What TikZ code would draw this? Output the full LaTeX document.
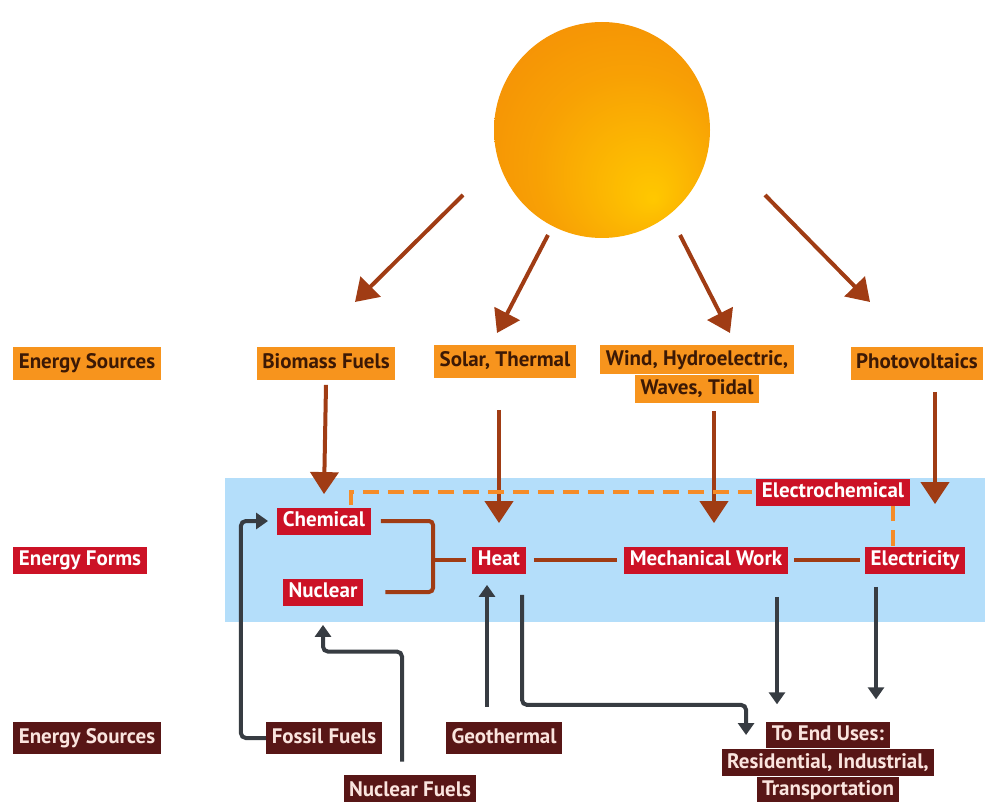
\documentclass[tikz,border=0pt]{standalone}
\usepackage{fontspec}
\setmainfont{PT Sans}
\usepackage{tikz}
\usetikzlibrary{arrows.meta, calc, positioning}

\definecolor{srcorange}{RGB}{247,148,29}
\definecolor{srctext}{RGB}{60,25,5}
\definecolor{formred}{RGB}{204,18,38}
\definecolor{basebrown}{RGB}{88,22,22}
\definecolor{basetext}{RGB}{250,228,222}
\definecolor{bandblue}{RGB}{180,222,250}
\definecolor{raybrown}{RGB}{160,60,20}
\definecolor{dashorange}{RGB}{245,140,40}
\definecolor{feedgray}{RGB}{55,60,66}
\definecolor{sunyellow}{RGB}{255,200,0}
\definecolor{sunorange}{RGB}{242,128,8}

\pgfdeclareradialshading{sunglow}{\pgfpoint{12bp}{-16bp}}{color(0bp)=(sunyellow); color(22bp)=(sunyellow!45!sunorange); color(50bp)=(sunorange)}

\begin{document}
\begin{tikzpicture}[x=0.5pt,y=-0.5pt,
	lbl/.style={inner xsep=2.75pt, text height=8pt, text depth=2.2pt, font=\fontsize{10.5}{12.5}\selectfont\bfseries},
	src/.style={lbl, fill=srcorange, text=srctext, inner ysep=3.15pt},
	form/.style={lbl, fill=formred, text=white, inner ysep=1.65pt},
	base/.style={lbl, fill=basebrown, text=basetext, inner ysep=2.9pt},
	ray/.style={draw=raybrown, line width=2pt, -{Triangle[width=14pt,length=11pt]}},
	link/.style={draw=raybrown, line width=2pt, rounded corners=2pt},
	store/.style={draw=dashorange, line width=2pt, dash pattern=on 8pt off 4.5pt},
	feed/.style={draw=feedgray, line width=2pt, rounded corners=2.5pt, -{Triangle[width=8pt,length=6pt]}}]

							\useasboundingbox (0,0) rectangle (985,802);
							\fill[bandblue] (225,478) rectangle (985,622);

							\node[circle, minimum size=108pt, shading=sunglow] (sun) at (602,130) {};

							\node[src] (srcL) at (87,363) {Energy Sources};
							\node[src] (bio) at (326,363) {Biomass Fuels};
							\node[src] (solar) at (505,361) {Solar, Thermal};
							\node[src, inner ysep=2pt] (wind1) at (697,359.5) {Wind, Hydroelectric,};
							\node[src, inner ysep=2pt, below=0pt of wind1] (wind2) {Waves, Tidal};
							\node[src] (photo) at (917,363) {Photovoltaics};

							\node[form] (formL) at (80,560) {Energy Forms};
							\node[form] (chem) at (324,521) {Chemical};
							\node[form] (nuc) at (323,592) {Nuclear};
							\node[form] (heat) at (499,560) {Heat};
							\node[form] (mech) at (706,560) {Mechanical Work};
							\node[form] (elec) at (915,560) {Electricity};
							\node[form] (echem) at (833,492) {Electrochemical};

							\node[base] (baseL) at (87,738) {Energy Sources};
							\node[base] (fossil) at (324,738) {Fossil Fuels};
							\node[base] (geo) at (504,738) {Geothermal};
							\node[base] (nucf) at (410,791) {Nuclear Fuels};
							\node[base, inner ysep=1.55pt] (end1) at (828,735) {To End Uses:};
							\node[base, inner ysep=1.55pt, below=0pt of end1] (end2) {Residential, Industrial,};
							\node[base, inner ysep=1.55pt, below=0pt of end2] (end3) {Transportation};

							\draw[ray] ($(sun)+(-139,65)$) -- ($(sun)+(-247,172)$);
							\draw[ray] ($(sun)+(-54,105)$) -- ($(sun)+(-105,203)$);
							\draw[ray] ($(sun)+(78,105)$) -- ($(sun)+(128,203)$);
							\draw[ray] ($(sun)+(163,65)$) -- ($(sun)+(268,172)$);

							\draw[ray] ([yshift=-2.5pt]bio.south) -- ([yshift=6.5pt]chem.north);
							\draw[ray] ($(heat.north |- solar.south)+(0,32)$) -- ([yshift=11.5pt]heat.north);
							\coordinate (wdrop) at ([xshift=4pt]mech.north);
							\draw[ray] ($(wdrop |- wind2.south)+(0,8)$) -- ([yshift=11.5pt]wdrop);
							\coordinate (pdrop) at ([xshift=10pt]elec.north);
							\draw[ray] ($(pdrop |- photo.south)+(0,12)$) -- ([yshift=21pt]pdrop);

							\coordinate (join) at (433,560);
							\draw[link] ([xshift=5pt]chem.east) -| (join);
							\draw[link] ([xshift=11pt]nuc.east) -| (join);
							\draw[link] (join) -- ([xshift=-3pt]heat.west);
							\draw[link] ([xshift=4pt]heat.east) -- ([xshift=-3.5pt]mech.west);
							\draw[link] ([xshift=3pt]mech.east) -- ([xshift=-2.5pt]elec.west);

							\draw[store] ([xshift=-10pt,yshift=1pt]chem.north east) |- ([xshift=-2pt]echem.west);
							\coordinate (edrop) at ([xshift=-11pt]elec.north);
							\draw[store] (edrop) -- (edrop |- echem.south);

							\draw[feed] (fossil.west) -- ++(-25,0) |- ([xshift=-4.5pt]chem.west);
							\draw[feed] ([xshift=-4pt,yshift=6.5pt]nucf.north) -- ++(0,-110) -| ([yshift=-9.5pt]nuc.south);
							\draw[feed] ([xshift=-8.5pt,yshift=7.5pt]geo.north) -- ([xshift=-6pt,yshift=-5.5pt]heat.south);
							\draw[feed] ([xshift=11.5pt,yshift=-10.5pt]heat.south) -- ++(0,110) -| ([xshift=-10pt]end1.west);
							\coordinate (mdrop) at ([xshift=35.5pt]mech.south);
							\draw[feed] ([yshift=-11.5pt]mdrop) -- ($(mdrop |- end1.north)+(0,-17)$);
							\coordinate (xdrop) at ([xshift=-19.5pt]elec.south);
							\draw[feed] ([yshift=-6.5pt]xdrop) -- ($(xdrop |- end1.north)+(0,-22)$);
\end{tikzpicture}
\end{document}
